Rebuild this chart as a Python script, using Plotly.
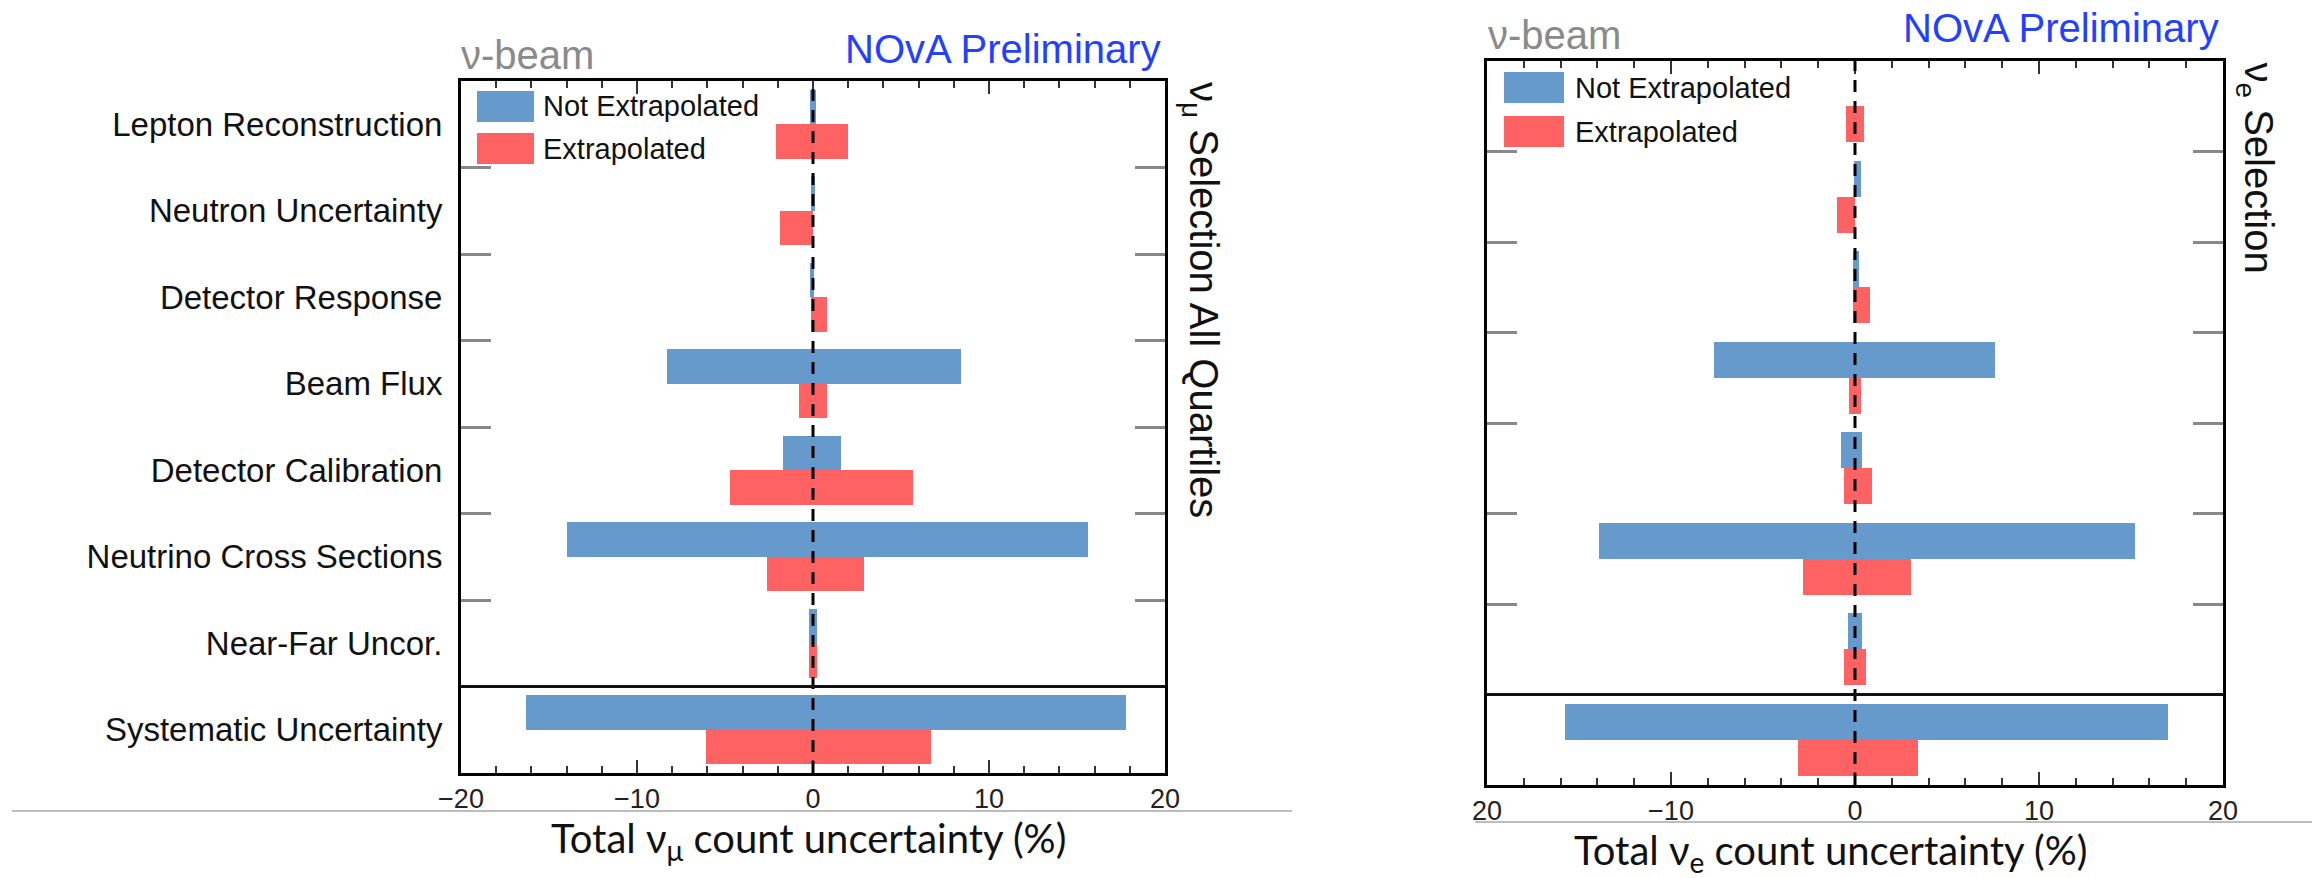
import plotly.graph_objects as go

# ---- data -------------------------------------------------------------
categories = [
    "Lepton Reconstruction",
    "Neutron Uncertainty",
    "Detector Response",
    "Beam Flux",
    "Detector Calibration",
    "Neutrino Cross Sections",
    "Near-Far Uncor.",
    "Systematic Uncertainty",
]

# nu_mu selection: (low, high) shift in %
numu_not_lo = [-0.15, -0.1, -0.15, -8.3, -1.7, -14.0, -0.2, -16.3]
numu_not_hi = [0.15, 0.1, 0.05, 8.4, 1.6, 15.6, 0.2, 17.8]
numu_ext_lo = [-2.1, -1.9, -0.1, -0.8, -4.7, -2.6, -0.2, -6.1]
numu_ext_hi = [2.0, 0.0, 0.8, 0.8, 5.7, 2.9, 0.25, 6.7]

# nu_e selection: (low, high) shift in %
nue_not_lo = [0.0, -0.05, -0.1, -7.65, -0.75, -13.9, -0.4, -15.75]
nue_not_hi = [0.0, 0.35, 0.2, 7.6, 0.4, 15.2, 0.4, 17.0]
nue_ext_lo = [-0.5, -1.0, -0.1, -0.3, -0.6, -2.85, -0.6, -3.1]
nue_ext_hi = [0.5, 0.0, 0.8, 0.3, 0.9, 3.05, 0.6, 3.4]

x_tickvals = [-20, -10, 0, 10, 20]
numu_ticktext = ["\u221220", "\u221210", "0", "10", "20"]
nue_ticktext = ["20", "\u221210", "0", "10", "20"]

# ---- styling ----------------------------------------------------------
W, H = 2312, 878
BLUE = "#6699cc"
RED = "#ff6262"
ROOT_FONT = "Liberation Sans, Arial, sans-serif"
TITLE_FONT = "Lato, Open Sans, sans-serif"


def px(x):
    return x / W


def py(y):
    return 1 - y / H


n = len(categories)
ypos = [n - 1 - i for i in range(n)]             # row centres, top row first
boundaries = [k + 0.5 for k in range(1, n - 1)]  # tick marks between upper rows

fig = go.Figure()


def add_panel(xa, ya, not_lo, not_hi, ext_lo, ext_hi):
    fig.add_trace(go.Bar(
        orientation="h", y=[p + 0.2 for p in ypos],
        base=not_lo, x=[h - l for l, h in zip(not_lo, not_hi)],
        width=0.4, marker=dict(color=BLUE, line=dict(width=0)),
        name="Not Extrapolated", showlegend=False, xaxis=xa, yaxis=ya,
    ))
    fig.add_trace(go.Bar(
        orientation="h", y=[p - 0.2 for p in ypos],
        base=ext_lo, x=[h - l for l, h in zip(ext_lo, ext_hi)],
        width=0.4, marker=dict(color=RED, line=dict(width=0)),
        name="Extrapolated", showlegend=False, xaxis=xa, yaxis=ya,
    ))


add_panel("x", "y", numu_not_lo, numu_not_hi, numu_ext_lo, numu_ext_hi)
add_panel("x2", "y2", nue_not_lo, nue_not_hi, nue_ext_lo, nue_ext_hi)

xaxis_common = dict(
    range=[-20, 20], tickmode="array", tickvals=x_tickvals,
    showline=True, linecolor="black", linewidth=3, mirror="allticks",
    ticks="inside", ticklen=13, tickwidth=2, tickcolor="#333",
    minor=dict(tickmode="linear", tick0=0, dtick=2, ticks="inside",
               ticklen=7, tickwidth=2, tickcolor="#333"),
    showgrid=False, zeroline=False, automargin=False,
    tickfont=dict(family=ROOT_FONT, size=27, color="#222"),
    fixedrange=True,
)
yaxis_common = dict(
    range=[-0.5, n - 0.5], tickmode="array", tickvals=ypos,
    showline=True, linecolor="black", linewidth=3, mirror="allticks",
    ticks="", showgrid=False, zeroline=False, automargin=False,
    minor=dict(tickmode="array", tickvals=boundaries, ticks="inside",
               ticklen=30, tickwidth=3, tickcolor="#888"),
    fixedrange=True,
)

fig.update_layout(
    width=W, height=H,
    margin=dict(l=0, r=0, t=0, b=0, autoexpand=False),
    paper_bgcolor="white", plot_bgcolor="white",
    barmode="overlay", bargap=0,
    xaxis=dict(domain=[px(461), px(1165)], ticktext=numu_ticktext,
               anchor="y", **xaxis_common),
    yaxis=dict(domain=[py(773), py(81)], ticktext=categories,
               showticklabels=True, ticklabelstandoff=9,
               tickfont=dict(family=ROOT_FONT, size=33, color="#111"),
               anchor="x", **yaxis_common),
    xaxis2=dict(domain=[px(1487), px(2223)], ticktext=nue_ticktext,
                anchor="y2", **xaxis_common),
    yaxis2=dict(domain=[py(785), py(61)], ticktext=categories,
                showticklabels=False, anchor="x2", **yaxis_common),
)

shapes = []
annotations = []

for xa, ya in (("x", "y"), ("x2", "y2")):
    # dashed zero line
    shapes.append(dict(type="line", xref=xa, yref=f"{ya} domain",
                       x0=0, x1=0, y0=0, y1=1, layer="above",
                       line=dict(color="black", width=3, dash="12px,9px")))
    # separator between the components and the total
    shapes.append(dict(type="line", xref=f"{xa} domain", yref=ya,
                       x0=0, x1=1, y0=0.5, y1=0.5, layer="above",
                       line=dict(color="#111", width=3)))

# thin grey rules under the tick labels
shapes.append(dict(type="line", xref="paper", yref="paper",
                   x0=px(12), x1=px(1292), y0=py(811), y1=py(811),
                   line=dict(color="#bdbdbd", width=2)))
shapes.append(dict(type="line", xref="paper", yref="paper",
                   x0=px(1475), x1=1, y0=py(822), y1=py(822),
                   line=dict(color="#bdbdbd", width=2)))


# legends
def add_legend(x0, x1, ytop_blue, ytop_red, h, xtext):
    for (ytop, col, label) in ((ytop_blue, BLUE, "Not Extrapolated"),
                               (ytop_red, RED, "Extrapolated")):
        shapes.append(dict(type="rect", xref="paper", yref="paper",
                           x0=px(x0), x1=px(x1), y0=py(ytop + h), y1=py(ytop),
                           fillcolor=col, line=dict(width=0)))
        annotations.append(dict(xref="paper", yref="paper",
                                x=px(xtext), y=py(ytop + h / 2),
                                xanchor="left", yanchor="middle",
                                text=label, showarrow=False,
                                font=dict(family=ROOT_FONT, size=29, color="#111")))


add_legend(477, 534, 91, 133, 31, 541)
add_legend(1504, 1564, 72, 116, 31, 1573)

# header texts: (left x, centre y of "ν-beam", right x, centre y of "NOvA Preliminary")
for (xl, yl, xr, yr) in ((459, 55, 1163, 49), (1486, 35, 2221, 28)):
    annotations.append(dict(xref="paper", yref="paper", x=px(xl), y=py(yl),
                            xanchor="left", yanchor="middle", text="\u03bd-beam",
                            showarrow=False,
                            font=dict(family=ROOT_FONT, size=40, color="#8a8a8a")))
    annotations.append(dict(xref="paper", yref="paper", x=px(xr), y=py(yr),
                            xanchor="right", yanchor="middle", text="NOvA Preliminary",
                            showarrow=False,
                            font=dict(family=ROOT_FONT, size=40, color="#2340ff")))

# rotated selection labels
annotations.append(dict(xref="paper", yref="paper", x=px(1174), y=py(80),
                        xanchor="left", yanchor="top", textangle=90,
                        text="\u03bd<sub>\u03bc</sub> Selection All Quartiles",
                        showarrow=False,
                        font=dict(family=ROOT_FONT, size=40, color="#111")))
annotations.append(dict(xref="paper", yref="paper", x=px(2229), y=py(60),
                        xanchor="left", yanchor="top", textangle=90,
                        text="\u03bd<sub>e</sub> Selection",
                        showarrow=False,
                        font=dict(family=ROOT_FONT, size=40, color="#111")))

# axis titles
annotations.append(dict(xref="paper", yref="paper", x=px(808), y=py(840),
                        xanchor="center", yanchor="middle",
                        text="Total \u03bd<sub>\u03bc</sub> count uncertainty (%)",
                        showarrow=False,
                        font=dict(family=TITLE_FONT, size=40, color="#111")))
annotations.append(dict(xref="paper", yref="paper", x=px(1830), y=py(852),
                        xanchor="center", yanchor="middle",
                        text="Total \u03bd<sub>e</sub> count uncertainty (%)",
                        showarrow=False,
                        font=dict(family=TITLE_FONT, size=40, color="#111")))

fig.update_layout(shapes=shapes, annotations=annotations)

fig.write_html("out.html")
